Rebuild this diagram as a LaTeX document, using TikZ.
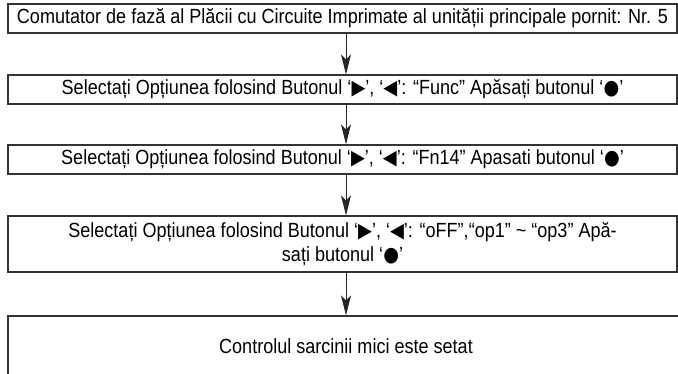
\documentclass[tikz,border=0pt]{standalone}
\usepackage{fontspec}
\setmainfont{Liberation Sans}[FakeStretch=0.88]
\newfontfamily\symbfont{DejaVu Sans}[FakeStretch=0.88]
\usetikzlibrary{arrows.meta}
\newcommand{\tright}{{\symbfont ▶}}
\newcommand{\tleft}{{\symbfont ◀}}
\newcommand{\bdot}{{\symbfont ●}}

\begin{document}
\begin{tikzpicture}[x=1pt,y=-1pt,
    stepbox/.style={draw=black!80,line width=1.2pt,minimum width=669pt,inner sep=0pt,
        text=black,align=center,font=\fontsize{20.5}{24}\selectfont},
    arr/.style={draw=black!85,line width=0.8pt,-{Stealth[length=20pt,width=10pt,inset=5pt]}}]
    \clip (0,0) rectangle (678,374);
    \node[stepbox,minimum height=29pt] (b1) at (342.5,18.5) {Comutator de fază al Plăcii cu Circuite Imprimate al unității principale pornit: Nr. 5};
    \node[stepbox,minimum height=29pt] (b2) at (342.5,89.5) {Selectați Opțiunea folosind Butonul ‘\tright’, ‘\tleft’: “Func” Apăsați butonul ‘\bdot’};
    \node[stepbox,minimum height=29pt] (b3) at (342.5,159.5) {Selectați Opțiunea folosind Butonul ‘\tright’, ‘\tleft’: “Fn14” Apasati butonul ‘\bdot’};
    \node[stepbox,minimum height=56pt] (b4) at (342.5,244) {Selectați Opțiunea folosind Butonul ‘\tright’, ‘\tleft’: “oFF”,“op1” \textasciitilde{} “op3” Apă-\\sați butonul ‘\bdot’};
    \node[stepbox,minimum width=676pt,minimum height=60pt] (b5) at (346,346) {Controlul sarcinii mici este setat};
    \draw[arr] (b1.south -| b5) -- (b2.north -| b5);
    \draw[arr] (b2.south -| b5) -- (b3.north -| b5);
    \draw[arr] (b3.south -| b5) -- (b4.north -| b5);
    \draw[arr] (b4.south -| b5) -- (b5.north);
\end{tikzpicture}
\end{document}
